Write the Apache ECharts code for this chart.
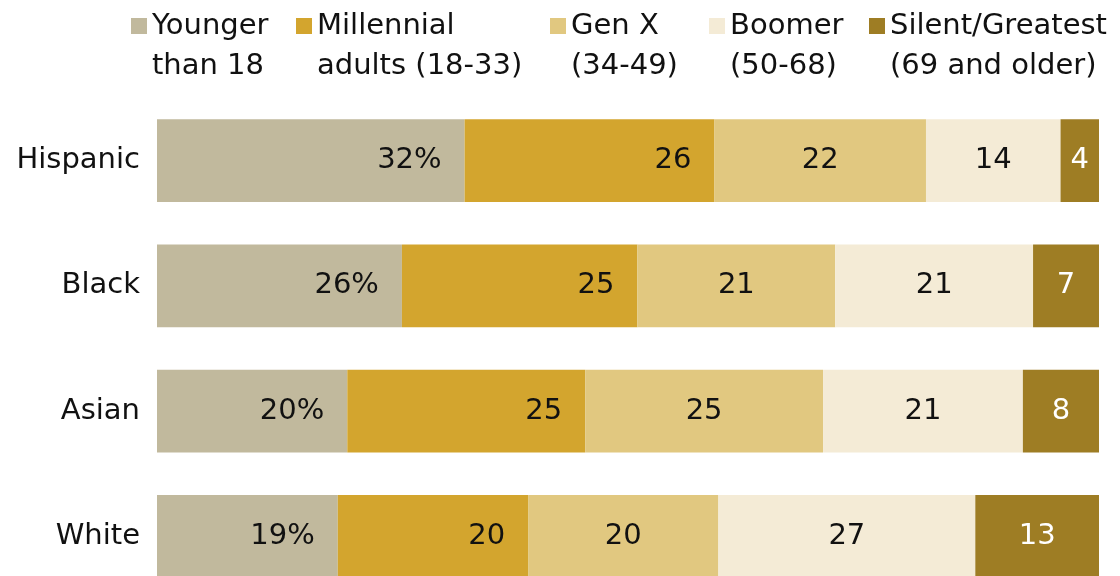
<!DOCTYPE html>
<html>
<head>
<meta charset="utf-8">
<script src="https://cdn.jsdelivr.net/npm/echarts@6/dist/echarts.min.js"></script>
<style>
html,body{margin:0;padding:0;background:#fff;}
#chart{width:1120px;height:576px;}
</style>
</head>
<body>
<div id="chart"></div>
<script>
var categories = ['Hispanic', 'Black', 'Asian', 'White'];
var seriesNames = ['Younger than 18', 'Millennial adults (18-33)', 'Gen X (34-49)', 'Boomer (50-68)', 'Silent/Greatest (69 and older)'];
var legendLabels = ['Younger\nthan 18', 'Millennial\nadults (18-33)', 'Gen X\n(34-49)', 'Boomer\n(50-68)', 'Silent/Greatest\n(69 and older)'];
var younger = [32, 26, 20, 19];
var millennial = [26, 25, 25, 20];
var genX = [22, 21, 25, 20];
var boomer = [14, 21, 21, 27];
var silent = [4, 7, 8, 13];
var colors = ['#c1b99d', '#d3a52e', '#e1c880', '#f4ebd6', '#9e7d24'];

var FONT = 'DejaVu Sans';
var allSeries = [younger, millennial, genX, boomer, silent];
var rowSums = categories.map(function (c, i) {
  return allSeries.reduce(function (s, arr) { return s + arr[i]; }, 0);
});

var legendLefts = [131, 296, 550, 709, 869];

var chart = echarts.init(document.getElementById('chart'));
var option = {
  animation: false,
  backgroundColor: '#fff',
  legend: seriesNames.map(function (n, k) {
    return {
      data: [n],
      left: legendLefts[k],
      top: -34,
      padding: 0,
      itemWidth: 16,
      itemHeight: 16,
      itemGap: 0,
      icon: 'rect',
      selectedMode: false,
      formatter: function () { return ' \n' + legendLabels[k]; },
      textStyle: {
        fontFamily: FONT,
        fontSize: 29,
        color: '#111',
        lineHeight: 40
      }
    };
  }),
  grid: { left: 157, right: 21, top: 98, height: 501, containLabel: false, outerBoundsMode: 'none' },
  xAxis: {
    type: 'value', min: 0, max: 100, show: false
  },
  yAxis: {
    type: 'category',
    inverse: true,
    data: categories,
    axisLine: { show: false },
    axisTick: { show: false },
    axisLabel: { fontFamily: FONT, fontSize: 29, color: '#111', margin: 17 }
  },
  series: allSeries.map(function (arr, k) {
    return {
      name: seriesNames[k],
      type: 'bar',
      stack: 'total',
      barCategoryGap: '34%',
      itemStyle: { color: colors[k] },
      data: arr.map(function (v, i) { return { value: v / rowSums[i] * 100, raw: v }; }),
      label: {
        show: true,
        position: k < 2 ? 'insideRight' : 'inside',
        distance: 23,
        fontFamily: FONT,
        fontSize: 29,
        color: k === 4 ? '#fff' : '#111',
        formatter: function (p) {
          return k === 0 ? p.data.raw + '%' : String(p.data.raw);
        }
      }
    };
  })
};
chart.setOption(option);
</script>
</body>
</html>
